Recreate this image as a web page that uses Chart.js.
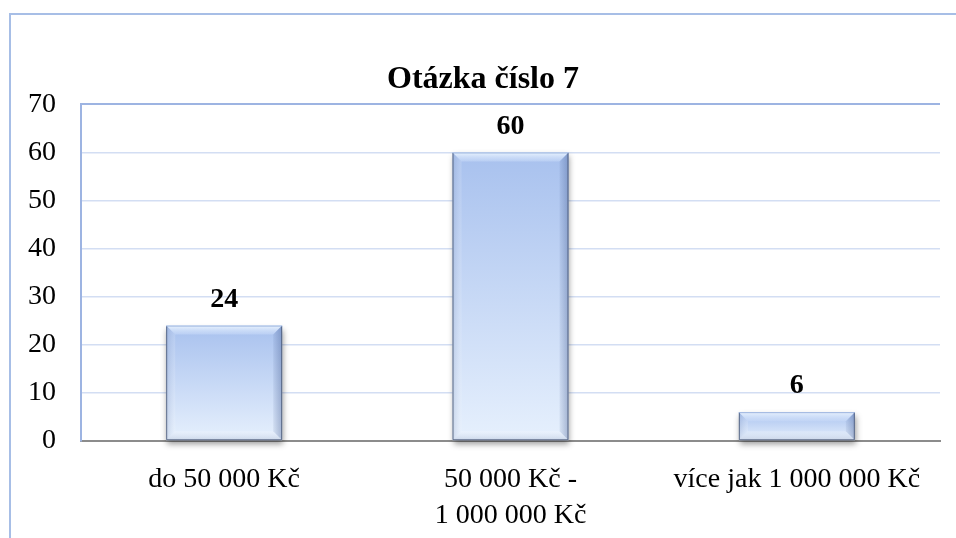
<!DOCTYPE html>
<html><head><meta charset="utf-8">
<script src="https://cdn.jsdelivr.net/npm/chart.js@4"></script>
<style>html,body{margin:0;padding:0;background:#fff;overflow:hidden}#c{display:block}</style>
</head><body><canvas id="c" width="956" height="538"></canvas>
<script>
const categories = [["do 50 000 Kč"], ["50 000 Kč -", "1 000 000 Kč"], ["více jak 1 000 000 Kč"]];
const values = [24, 60, 6];
const yMin = 0, yMax = 70, yStep = 10;
const titleText = "Otázka číslo 7";

const FONT = "'Liberation Serif', 'Times New Roman', serif";
Chart.defaults.font.family = FONT;
Chart.defaults.color = '#000';

const frame = {
  id: 'frame',
  beforeDraw(chart) {
    const ctx = chart.ctx;
    ctx.save();
    ctx.fillStyle = '#fff';
    ctx.fillRect(0, 0, chart.width, chart.height);
    ctx.strokeStyle = '#a7bee6';
    ctx.lineWidth = 2;
    ctx.strokeRect(10, 14, 2000, 2000);
    ctx.restore();
  }
};

function poly(ctx, pts, fill) {
  ctx.beginPath();
  ctx.moveTo(pts[0][0], pts[0][1]);
  for (let i = 1; i < pts.length; i++) ctx.lineTo(pts[i][0], pts[i][1]);
  ctx.closePath();
  ctx.fillStyle = fill;
  ctx.fill();
}

// bars are positioned by Chart.js; this plugin only styles them (gradient, bevel, shadow, value label)
const bevel = {
  id: 'bevel',
  afterDatasetsDraw(chart) {
    const ctx = chart.ctx;
    const meta = chart.getDatasetMeta(0);
    meta.data.forEach((el, i) => {
      const p = el.getProps(['x', 'y', 'base', 'width'], true);
      const l = p.x - p.width / 2, r = p.x + p.width / 2, t = p.y, b = p.base;
      if (![l, r, t, b].every(Number.isFinite)) return;
      const d = Math.min(9, (b - t) / 2.6);
      ctx.save();
      ctx.shadowColor = 'rgba(0,0,0,0.4)';
      ctx.shadowBlur = 6;
      ctx.shadowOffsetX = 1;
      ctx.shadowOffsetY = 4;
      const g = ctx.createLinearGradient(0, t, 0, b);
      g.addColorStop(0, '#a8c1ee');
      g.addColorStop(1, '#e6f0fd');
      ctx.fillStyle = g;
      ctx.fillRect(l, t, r - l, b - t);
      ctx.restore();
      ctx.save();
      const gTop = ctx.createLinearGradient(0, t, 0, t + d);
      gTop.addColorStop(0, 'rgba(236,245,255,0.95)');
      gTop.addColorStop(1, 'rgba(200,218,248,0.5)');
      poly(ctx, [[l, t], [r, t], [r - d, t + d], [l + d, t + d]], gTop);
      const gL = ctx.createLinearGradient(l, 0, l + d, 0);
      gL.addColorStop(0, 'rgba(120,140,180,0.25)');
      gL.addColorStop(1, 'rgba(255,255,255,0.15)');
      poly(ctx, [[l, t], [l + d, t + d], [l + d, b - d], [l, b]], gL);
      const gR = ctx.createLinearGradient(r - d, 0, r, 0);
      gR.addColorStop(0, 'rgba(60,85,140,0.08)');
      gR.addColorStop(1, 'rgba(60,85,140,0.38)');
      poly(ctx, [[r, t], [r, b], [r - d, b - d], [r - d, t + d]], gR);
      const gB = ctx.createLinearGradient(0, b - d, 0, b);
      gB.addColorStop(0, 'rgba(255,255,255,0.2)');
      gB.addColorStop(1, 'rgba(150,165,195,0.35)');
      poly(ctx, [[l, b], [l + d, b - d], [r - d, b - d], [r, b]], gB);
      ctx.lineWidth = 1;
      ctx.strokeStyle = 'rgba(75,90,120,0.85)';
      ctx.beginPath();
      ctx.moveTo(l + 0.5, t + 0.5);
      ctx.lineTo(l + 0.5, b - 0.5);
      ctx.lineTo(r - 0.5, b - 0.5);
      ctx.lineTo(r - 0.5, t + 0.5);
      ctx.stroke();
      ctx.strokeStyle = 'rgba(150,175,220,0.9)';
      ctx.beginPath();
      ctx.moveTo(l, t + 0.5);
      ctx.lineTo(r, t + 0.5);
      ctx.stroke();
      ctx.fillStyle = '#000';
      ctx.font = 'bold 28px ' + FONT;
      ctx.textAlign = 'center';
      ctx.textBaseline = 'middle';
      ctx.fillText(String(values[i]), p.x, t - 26);
      ctx.restore();
    });
  }
};

new Chart(document.getElementById('c'), {
  type: 'bar',
  data: {
    labels: categories,
    datasets: [{
      data: values,
      backgroundColor: 'rgba(0,0,0,0)',
      borderWidth: 0,
      categoryPercentage: 1,
      barPercentage: 0.405
    }]
  },
  options: {
    responsive: false,
    animation: false,
    events: [],
    layout: { padding: { left: 26, right: 16, top: 0, bottom: 0 } },
    plugins: {
      legend: { display: false },
      tooltip: { enabled: false },
      title: {
        display: true,
        text: titleText,
        font: { size: 32, weight: 'bold', family: FONT, lineHeight: 1.2 },
        color: '#000',
        padding: { top: 61, bottom: 5 }
      }
    },
    scales: {
      x: {
        grid: { display: false, drawTicks: false },
        border: { display: true, color: '#8c8c8c', width: 2 },
        ticks: { font: { size: 28, family: FONT, lineHeight: 1.28 }, color: '#000', padding: 21, maxRotation: 0, autoSkip: false },
        afterFit(s) { s.height = 97; }
      },
      y: {
        min: yMin, max: yMax,
        ticks: { stepSize: yStep, font: { size: 28, family: FONT }, color: '#000', padding: 25 },
        grid: {
          drawTicks: false,
          color(c) { return c.tick && c.tick.value === yMax ? '#9db4e2' : (c.tick && c.tick.value === 0 ? '#8c8c8c' : '#d3def3'); },
          lineWidth(c) { return c.tick && c.tick.value === yMax ? 2 : 1.5; }
        },
        border: { display: true, color: '#9db4e2', width: 2 },
        afterFit(s) { s.width = 55; }
      }
    }
  },
  plugins: [frame, bevel]
});
</script>
</body></html>
